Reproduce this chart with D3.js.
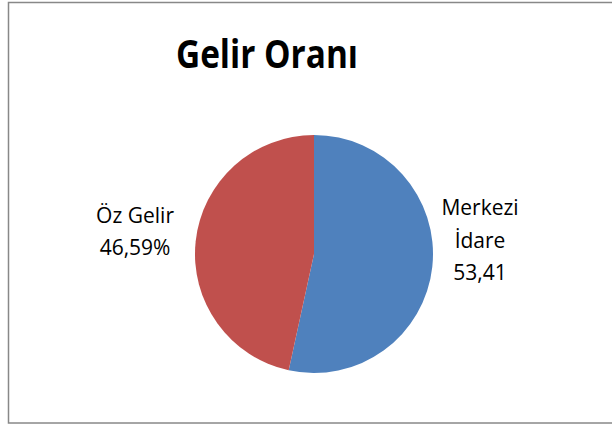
<!DOCTYPE html>
<html>
<head>
<meta charset="utf-8">
<script src="https://cdn.jsdelivr.net/npm/d3@7"></script>
<style>
  body { margin: 0; background: #fff; }
  text { font-family: "Open Sans", "DejaVu Sans", sans-serif; fill: #000; }
</style>
</head>
<body>
<script>
const width = 612;
const height = 425;

// data
const categories = ["Merkezi İdare", "Öz Gelir"];
const values = [53.41, 46.59];
const labelLines = [["Merkezi", "İdare", "53,41"], ["Öz Gelir", "46,59%"]];
const colors = ["#4F81BD", "#C0504D"];

const cx = 314, cy = 254, radius = 119;

const svg = d3.select("body").append("svg")
  .attr("width", width)
  .attr("height", height);

// chart frame
svg.append("rect")
  .attr("x", 8.5)
  .attr("y", 2.5)
  .attr("width", 640)
  .attr("height", 420.5)
  .attr("fill", "#fff")
  .attr("stroke", "#888")
  .attr("stroke-width", 1.5);

// title
svg.append("text")
  .attr("x", 267)
  .attr("y", 68)
  .attr("text-anchor", "middle")
  .attr("font-size", 40)
  .attr("font-weight", "bold")
  .attr("textLength", 182)
  .attr("lengthAdjust", "spacingAndGlyphs")
  .text("Gelir Oranı");

const pie = d3.pie().sort(null).value(d => d.value);
const arcs = pie(categories.map((c, i) => ({name: c, value: values[i]})));
const arc = d3.arc().innerRadius(0).outerRadius(radius);

const g = svg.append("g").attr("transform", `translate(${cx},${cy})`);

g.selectAll("path")
  .data(arcs)
  .join("path")
  .attr("d", arc)
  .attr("fill", (d, i) => colors[i]);

// label placement: radius along slice mid-angle and vertical shift
const labelRadius = [167, 180];
const labelDy = [-24, 4];
const lineH = 32.5;

arcs.forEach((d, i) => {
  const mid = (d.startAngle + d.endAngle) / 2;
  const x = Math.sin(mid) * labelRadius[i];
  const yMid = -Math.cos(mid) * labelRadius[i] + labelDy[i];
  const lines = labelLines[i];
  const t = g.append("text")
    .attr("text-anchor", "middle")
    .attr("font-size", 21);
  lines.forEach((ln, j) => {
    t.append("tspan")
      .attr("x", x)
      .attr("y", yMid + (j - (lines.length - 1) / 2) * lineH)
      .attr("textLength", null)
      .text(ln);
  });
});
</script>
</body>
</html>
